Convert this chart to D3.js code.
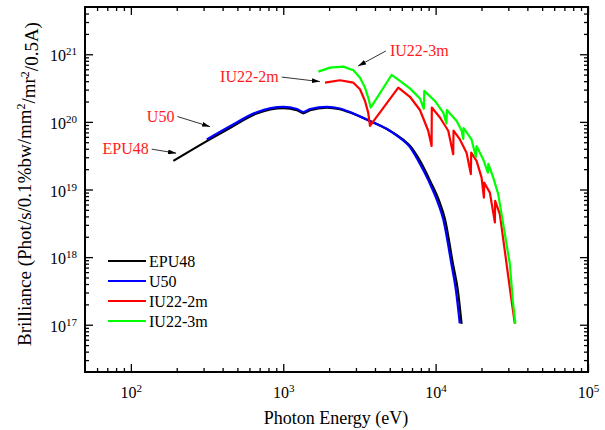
<!DOCTYPE html>
<html>
<head>
<meta charset="utf-8">
<script src="https://cdn.jsdelivr.net/npm/d3@7"></script>
<style>
body { margin: 0; background: #fff; }
text { font-family: "Liberation Serif", "Times New Roman", serif; }
</style>
</head>
<body>
<script>
// photon energy (eV) / brilliance
var epuE = [190, 315, 450, 670, 1000, 1230, 1355, 1500, 1930, 2350, 2800, 3700, 5000, 6100, 6800, 7900, 9200, 10700, 11500, 13000, 14000, 14800];
var epuB = [2.65e19, 5.2e19, 8.2e19, 1.33e20, 1.59e20, 1.49e20, 1.34e20, 1.49e20, 1.63e20, 1.54e20, 1.35e20, 1.03e20, 7.4e19, 5.5e19, 4.4e19, 2.65e19, 1.34e19, 6.2e18, 3.7e18, 7.9e17, 3.2e17, 1.03e17];

var u50E = [315, 450, 670, 1000, 1230, 1355, 1500, 1930, 2350, 2800, 3700, 5000, 6000, 6700, 7700, 9000, 10400, 11200, 12700, 13600, 14400];
var u50B = [5.5e19, 8.7e19, 1.39e20, 1.67e20, 1.55e20, 1.4e20, 1.55e20, 1.67e20, 1.58e20, 1.37e20, 1.03e20, 7.4e19, 5.5e19, 4.4e19, 2.65e19, 1.34e19, 6.2e18, 3.7e18, 7.9e17, 3.2e17, 1.05e17];

var iu2E = [1880, 2355, 2885, 3190, 3440, 3610, 3710, 5690, 6780, 7890, 8940, 9410, 9440, 10670, 12100, 13040, 13110, 14430, 15960, 17030, 17120, 18560, 20030, 20740, 20850, 22700, 24480, 24600, 26400, 29220, 31500, 33100];
var iu2B = [3.8e20, 4.13e20, 3.8e20, 3.04e20, 2.04e20, 1.37e20, 8.7e19, 3.21e20, 2.35e20, 1.5e20, 7.4e19, 4.4e19, 1.63e20, 1.16e20, 7.4e19, 3.33e19, 7.4e19, 5.5e19, 3.5e19, 1.69e19, 3.5e19, 2.65e19, 1.5e19, 7.6e18, 1.26e19, 9.0e18, 3.26e18, 6.8e18, 4.3e18, 7.9e17, 2.27e17, 1.04e17];

var iu3E = [1700, 2027, 2478, 2885, 3190, 3440, 3610, 3750, 5140, 5830, 6780, 7890, 8370, 8430, 9890, 11220, 11780, 11850, 13740, 14820, 15180, 15260, 17200, 18370, 18560, 20500, 22030, 22180, 23880, 25730, 27080, 30700, 32100, 33370];
var iu3B = [5.53e20, 6.34e20, 6.56e20, 5.8e20, 4.51e20, 3.21e20, 2.29e20, 1.63e20, 4.94e20, 4.03e20, 3.13e20, 2.22e20, 1.56e20, 2.87e20, 2.04e20, 1.37e20, 9.5e19, 1.5e20, 1.03e20, 7.4e19, 5.6e19, 8.1e19, 5.5e19, 3.04e19, 4.4e19, 2.81e19, 1.77e19, 2.4e19, 1.5e19, 8.6e18, 4.3e18, 7.9e17, 2.27e17, 1.04e17];

var names = ['EPU48', 'U50', 'IU22-2m', 'IU22-3m'];
var colors = ['#000000', '#0000ff', '#ff0000', '#00ff00'];

var xMajor = [100, 1000, 10000, 100000];
var yMajor = [1e17, 1e18, 1e19, 1e20, 1e21];

// annotation arrows: tail and tip in data units
var annText = ['EPU48', 'U50', 'IU22-2m', 'IU22-3m'];
var annFrom = [[137, 3.95e19], [202, 1.2e20], [978, 4.6e20], [4720, 1.12e21]];
var annTo = [[198, 3.45e19], [331, 8.5e19], [1740, 3.94e20], [3100, 6.7e20]];

var svg = d3.select('body').append('svg')
    .attr('width', 605)
    .attr('height', 430);

var x = d3.scaleLog().domain([50, 1e5]).range([85, 588]);
var y = d3.scaleLog().domain([2e16, 5e21]).range([372, 7]);

function minors(lo, hi) {
    var out = [];
    for (var p = Math.floor(Math.log10(lo)); p <= Math.ceil(Math.log10(hi)); p++) {
        for (var k = 2; k <= 9; k++) {
            var v = k * Math.pow(10, p);
            if (v > lo * 1.001 && v < hi * 0.999) out.push(v);
        }
    }
    return out;
}

function plain(g) {
    g.select('.domain').remove();
    g.selectAll('line').attr('stroke', '#000').attr('stroke-width', 1.3);
}

function sup(g, size) {
    g.attr('font-family', null).attr('font-size', null);
    g.selectAll('.tick text')
        .attr('fill', '#000')
        .style('font-size', size + 'px')
        .each(function(d) {
            var t = d3.select(this);
            t.append('tspan').text('10');
            t.append('tspan').attr('dy', '-0.55em').style('font-size', '11px')
                .text(Math.round(Math.log10(d)));
        });
}

// bottom
svg.append('g').attr('transform', 'translate(0,372)')
    .call(d3.axisBottom(x).tickValues(minors(50, 1e5)).tickSize(-4).tickFormat(''))
    .call(plain);
svg.append('g').attr('transform', 'translate(0,372)')
    .call(d3.axisBottom(x).tickValues(xMajor).tickSize(-8).tickPadding(15).tickFormat(''))
    .call(plain)
    .call(function(g) { sup(g, 16); });
// top
svg.append('g').attr('transform', 'translate(0,7)')
    .call(d3.axisTop(x).tickValues(minors(50, 1e5)).tickSize(-4).tickFormat(''))
    .call(plain);
svg.append('g').attr('transform', 'translate(0,7)')
    .call(d3.axisTop(x).tickValues(xMajor).tickSize(-8).tickFormat(''))
    .call(plain);
// left
svg.append('g').attr('transform', 'translate(85,0)')
    .call(d3.axisLeft(y).tickValues(minors(2e16, 5e21)).tickSize(-4).tickFormat(''))
    .call(plain);
svg.append('g').attr('transform', 'translate(85,0)')
    .call(d3.axisLeft(y).tickValues(yMajor).tickSize(-8).tickPadding(8).tickFormat(''))
    .call(plain)
    .call(function(g) { sup(g, 16); g.selectAll('.tick text').attr('dy', '0.42em'); });
// right
svg.append('g').attr('transform', 'translate(588,0)')
    .call(d3.axisRight(y).tickValues(minors(2e16, 5e21)).tickSize(-4).tickFormat(''))
    .call(plain);
svg.append('g').attr('transform', 'translate(588,0)')
    .call(d3.axisRight(y).tickValues(yMajor).tickSize(-8).tickFormat(''))
    .call(plain);

// frame
svg.append('rect')
    .attr('x', x.range()[0])
    .attr('y', y.range()[1])
    .attr('width', x.range()[1] - x.range()[0])
    .attr('height', y.range()[0] - y.range()[1])
    .attr('fill', 'none')
    .attr('stroke', '#000')
    .attr('stroke-width', 2);

// curves
var smooth = d3.line().x(function(d) { return x(d[0]); }).y(function(d) { return y(d[1]); }).curve(d3.curveMonotoneX);
var sharp = d3.line().x(function(d) { return x(d[0]); }).y(function(d) { return y(d[1]); });

var series = [
    [d3.zip(epuE, epuB), smooth],
    [d3.zip(u50E, u50B), smooth],
    [d3.zip(iu2E, iu2B), sharp],
    [d3.zip(iu3E, iu3B), sharp]
];

series.forEach(function(s, i) {
    svg.append('path')
        .attr('d', s[1](s[0]))
        .attr('fill', 'none')
        .attr('stroke', colors[i])
        .attr('stroke-width', 2.2)
        .attr('stroke-linejoin', 'round');
});

// arrows
svg.append('defs').append('marker')
    .attr('id', 'ah')
    .attr('viewBox', '0 0 10 6')
    .attr('refX', 10)
    .attr('refY', 3)
    .attr('markerWidth', 8)
    .attr('markerHeight', 5)
    .attr('markerUnits', 'userSpaceOnUse')
    .attr('orient', 'auto')
    .append('path')
    .attr('d', 'M0,0L10,3L0,6Z')
    .attr('fill', '#000');

annText.forEach(function(t, i) {
    var x0 = x(annFrom[i][0]), y0 = y(annFrom[i][1]);
    svg.append('line')
        .attr('x1', x0).attr('y1', y0)
        .attr('x2', x(annTo[i][0])).attr('y2', y(annTo[i][1]))
        .attr('stroke', '#000')
        .attr('stroke-width', 0.8)
        .attr('marker-end', 'url(#ah)');
    var right = annTo[i][0] < annFrom[i][0];
    svg.append('text')
        .attr('x', right ? x0 + 4 : x0 - 3)
        .attr('y', y0)
        .attr('dy', '0.33em')
        .attr('text-anchor', right ? 'start' : 'end')
        .attr('fill', '#ff1a1a')
        .style('font-size', '16px')
        .text(t);
});

// legend
names.forEach(function(n, i) {
    var ly = 261 + i * 20;
    svg.append('line')
        .attr('x1', 108).attr('x2', 146)
        .attr('y1', ly).attr('y2', ly)
        .attr('stroke', colors[i])
        .attr('stroke-width', 2);
    svg.append('text')
        .attr('x', 149)
        .attr('y', ly)
        .attr('dy', '0.35em')
        .style('font-size', '16px')
        .text(n);
});

// axis titles
svg.append('text')
    .attr('x', 336)
    .attr('y', 424)
    .attr('text-anchor', 'middle')
    .style('font-size', '18px')
    .text('Photon Energy (eV)');

var yt = svg.append('text')
    .attr('transform', 'translate(31,184) rotate(-90)')
    .attr('text-anchor', 'middle')
    .style('font-size', '19px');
yt.append('tspan').text('Brilliance (Phot/s/0.1%bw/mm');
yt.append('tspan').attr('dy', '-0.5em').style('font-size', '12px').text('2');
yt.append('tspan').attr('dy', '0.5em').text('/mr');
yt.append('tspan').attr('dy', '-0.5em').style('font-size', '12px').text('2');
yt.append('tspan').attr('dy', '0.5em').text('/0.5A)');
</script>
</body>
</html>
